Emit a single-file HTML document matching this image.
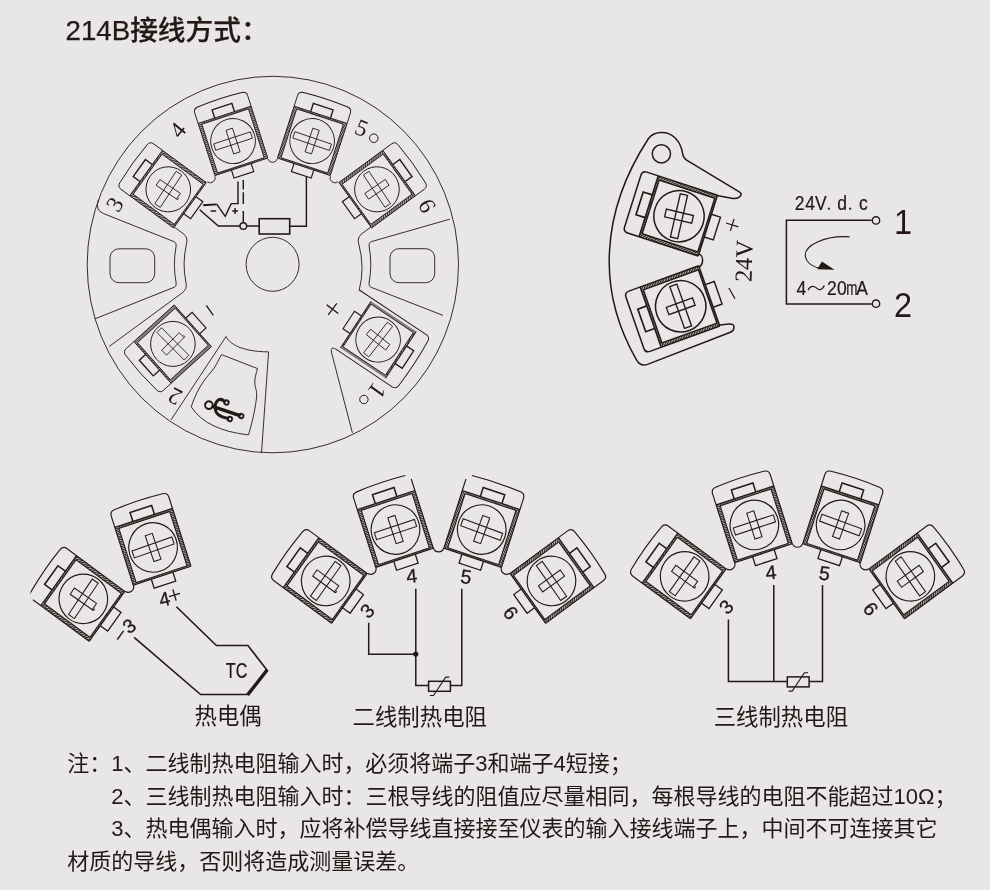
<!DOCTYPE html>
<html lang="zh"><head><meta charset="utf-8"><title>214B接线方式</title>
<style>html,body{margin:0;padding:0;background:#e8e6e7;}body{width:990px;height:890px;overflow:hidden;font-family:"Liberation Sans",sans-serif;}svg{display:block;will-change:transform;}</style>
</head><body>
<svg width="990" height="890" viewBox="0 0 990 890" role="img" aria-label="214B wiring diagram">
<defs>
<pattern id="hat" width="1.8" height="1.8" patternUnits="userSpaceOnUse" patternTransform="rotate(40)"><rect width="1.8" height="1.8" fill="#c0bab8"/><rect width="1.8" height="0.95" fill="#352d2b"/></pattern>
<pattern id="hat2" width="1.8" height="1.8" patternUnits="userSpaceOnUse" patternTransform="rotate(-50)"><rect width="1.8" height="1.8" fill="#aaa4a2"/><rect width="1.8" height="1.0" fill="#3a3230"/></pattern>
<pattern id="hatD" width="1.9" height="1.9" patternUnits="userSpaceOnUse" patternTransform="rotate(40)"><rect width="1.9" height="1.9" fill="#bdb7b5"/><rect width="1.9" height="1.05" fill="#2e2624"/></pattern>
<pattern id="hat3" width="0.85" height="4" patternUnits="userSpaceOnUse"><rect width="0.85" height="4" fill="#e8e6e7"/><rect width="0.5" height="4" fill="#3a3230"/></pattern>
</defs>
<rect width="990" height="890" fill="#e8e6e7"/>
<g fill="none" stroke="#231815" stroke-linecap="butt" stroke-linejoin="miter">
<text x="65.5" y="40.1" font-family="'Liberation Sans', 'Noto Sans CJK SC', sans-serif" font-size="27.7" font-weight="500" fill="#231815" stroke="#231815" stroke-width="0.25" stroke-linejoin="round">214B接线方式：</text>
<text x="194.6" y="723.9" font-family="'Liberation Sans', 'Noto Sans CJK SC', sans-serif" font-size="22.4" fill="#231815" stroke="none">热电偶</text>
<text x="352.6" y="724.6" font-family="'Liberation Sans', 'Noto Sans CJK SC', sans-serif" font-size="22.4" fill="#231815" stroke="none">二线制热电阻</text>
<text x="713.7" y="725.2" font-family="'Liberation Sans', 'Noto Sans CJK SC', sans-serif" font-size="22.4" fill="#231815" stroke="none">三线制热电阻</text>
<text x="67.2" y="771" font-family="'Liberation Sans', 'Noto Sans CJK SC', sans-serif" font-size="22" fill="#231815" stroke="none" textLength="564.6" lengthAdjust="spacing">注：1、二线制热电阻输入时，必须将端子3和端子4短接；</text>
<text x="111.2" y="803.9" font-family="'Liberation Sans', 'Noto Sans CJK SC', sans-serif" font-size="22" fill="#231815" stroke="none" textLength="845.3" lengthAdjust="spacing">2、三线制热电阻输入时：三根导线的阻值应尽量相同，每根导线的电阻不能超过10Ω；</text>
<text x="111.2" y="836.4" font-family="'Liberation Sans', 'Noto Sans CJK SC', sans-serif" font-size="22" fill="#231815" stroke="none" textLength="826.2" lengthAdjust="spacing">3、热电偶输入时，应将补偿导线直接接至仪表的输入接线端子上，中间不可连接其它</text>
<text x="67.2" y="869.1" font-family="'Liberation Sans', 'Noto Sans CJK SC', sans-serif" font-size="22" fill="#231815" stroke="none" textLength="352" lengthAdjust="spacing">材质的导线，否则将造成测量误差。</text>
<text transform="translate(799.52,202.3) scale(0.86,1)" y="7.3" font-family="'Liberation Sans', sans-serif" font-size="20.4" font-weight="normal" text-anchor="middle" fill="#231815" stroke="#231815" stroke-width="0.2">2</text>
<text transform="translate(810.16,202.3) scale(0.86,1)" y="7.3" font-family="'Liberation Sans', sans-serif" font-size="20.4" font-weight="normal" text-anchor="middle" fill="#231815" stroke="#231815" stroke-width="0.2">4</text>
<text transform="translate(820.8,202.3) scale(0.86,1)" y="7.3" font-family="'Liberation Sans', sans-serif" font-size="20.4" font-weight="normal" text-anchor="middle" fill="#231815" stroke="#231815" stroke-width="0.2">V</text>
<rect x="827.92" y="207.7" width="1.9" height="1.9" fill="#231815" stroke="none"/>
<text transform="translate(842.08,202.3) scale(0.86,1)" y="7.3" font-family="'Liberation Sans', sans-serif" font-size="20.4" font-weight="normal" text-anchor="middle" fill="#231815" stroke="#231815" stroke-width="0.2">d</text>
<rect x="849.2" y="207.7" width="1.9" height="1.9" fill="#231815" stroke="none"/>
<text transform="translate(863.36,202.3) scale(0.86,1)" y="7.3" font-family="'Liberation Sans', sans-serif" font-size="20.4" font-weight="normal" text-anchor="middle" fill="#231815" stroke="#231815" stroke-width="0.2">c</text>
<text transform="translate(801.45,288) scale(0.86,1)" y="7.3" font-family="'Liberation Sans', sans-serif" font-size="20.4" font-weight="normal" text-anchor="middle" fill="#231815" stroke="#231815" stroke-width="0.2">4</text>
<path d="M808.0 290.3C810.5 285.2 813.8 285.6 816.3 287.9C818.9 290.3 822.0 290.6 824.3 285.6" stroke-width="1.25"/>
<text transform="translate(831.75,288) scale(0.86,1)" y="7.3" font-family="'Liberation Sans', sans-serif" font-size="20.4" font-weight="normal" text-anchor="middle" fill="#231815" stroke="#231815" stroke-width="0.2">2</text>
<text transform="translate(841.85,288) scale(0.86,1)" y="7.3" font-family="'Liberation Sans', sans-serif" font-size="20.4" font-weight="normal" text-anchor="middle" fill="#231815" stroke="#231815" stroke-width="0.2">0</text>
<text transform="translate(851.95,288) scale(0.66,1)" y="7.3" font-family="'Liberation Sans', sans-serif" font-size="20.4" font-weight="normal" text-anchor="middle" fill="#231815" stroke="#231815" stroke-width="0.2">m</text>
<text transform="translate(862.05,288) scale(0.86,1)" y="7.3" font-family="'Liberation Sans', sans-serif" font-size="20.4" font-weight="normal" text-anchor="middle" fill="#231815" stroke="#231815" stroke-width="0.2">A</text>
<text transform="translate(903,221.4) scale(0.92,1)" y="12.64" font-family="'Liberation Sans', sans-serif" font-size="35.3" font-weight="normal" text-anchor="middle" fill="#231815" stroke="none">1</text>
<text transform="translate(903,304.5) scale(0.92,1)" y="12.64" font-family="'Liberation Sans', sans-serif" font-size="35.3" font-weight="normal" text-anchor="middle" fill="#231815" stroke="none">2</text>
<ellipse cx="272.85" cy="264.55" rx="185.65" ry="188.25" stroke-width="0.9"/>
<ellipse cx="272.6" cy="264.3" rx="26.5" ry="27" stroke-width="0.9"/>
<g transform="translate(168.26,189.31) scale(1,1.01) rotate(-54)">
<rect x="-27.8" y="-27.4" width="3.3" height="54.2" fill="url(#hat)" stroke="none"/>
<rect x="24.5" y="-27.4" width="3.3" height="54.2" fill="url(#hat)" stroke="none"/>
<rect x="-24.5" y="-27.4" width="49" height="1.9" fill="url(#hat2)" stroke="none"/>
<rect x="-24.5" y="25.3" width="49" height="1.5" fill="url(#hat2)" stroke="none"/>
<path d="M-24.5 -25.5H24.5V25.3H-24.5Z" stroke-width="0.81"/>
<path d="M-27.8 -27.4H27.8M-27.8 26.8H27.8" stroke-width="0.9"/>
<path d="M-27.8 26.8V-38.2Q-27.8 -42.7 -23.3 -43Q0 -44.9 23.3 -43Q27.8 -42.7 27.8 -38.2V26.8" stroke-width="0.9"/>
<circle cx="0" cy="0" r="22.3" stroke-width="0.9"/>
</g>
<g transform="translate(168.26,189.31) scale(1,1.01) rotate(-56.3)">
<path d="M-19.3 -3.3h38.6v6.6h-38.6Z M-3.4 -12.3h6.8v24.6h-6.8Z" stroke-width="0.81"/>
<path d="M-3.4 12.1q-0.5 2.0 1.9 1.5" stroke-width="0.81"/>
</g>
<g transform="translate(168.26,189.31) scale(1,1.01) rotate(-54)">
<path d="M-10.4 -27.4v-8.4h20.8v8.4" stroke-width="1.35"/>
<path d="M-10.4 26.8v8.4h20.8v-8.4" stroke-width="1.15"/>
</g>
<g transform="translate(233.05,141.06) scale(1,1.01) rotate(-18)">
<rect x="-27.8" y="-27.4" width="3.3" height="54.2" fill="url(#hat)" stroke="none"/>
<rect x="24.5" y="-27.4" width="3.3" height="54.2" fill="url(#hat)" stroke="none"/>
<rect x="-24.5" y="-27.4" width="49" height="1.9" fill="url(#hat2)" stroke="none"/>
<rect x="-24.5" y="25.3" width="49" height="1.5" fill="url(#hat2)" stroke="none"/>
<path d="M-24.5 -25.5H24.5V25.3H-24.5Z" stroke-width="0.81"/>
<path d="M-27.8 -27.4H27.8M-27.8 26.8H27.8" stroke-width="0.9"/>
<path d="M-27.8 26.8V-38.2Q-27.8 -42.7 -23.3 -43Q0 -44.9 23.3 -43Q27.8 -42.7 27.8 -38.2V26.8" stroke-width="0.9"/>
<circle cx="0" cy="0" r="22.3" stroke-width="0.9"/>
</g>
<g transform="translate(233.05,141.06) scale(1,1.01) rotate(-18)">
<path d="M-19.3 -3.3h38.6v6.6h-38.6Z M-3.4 -12.3h6.8v24.6h-6.8Z" stroke-width="0.81"/>
</g>
<g transform="translate(233.05,141.06) scale(1,1.01) rotate(-18)">
<path d="M-10.4 -27.4v-8.4h20.8v8.4" stroke-width="1.35"/>
<path d="M-10.4 26.8v8.4h20.8v-8.4" stroke-width="1.15"/>
</g>
<g transform="translate(312.15,141.06) scale(1,1.01) rotate(18)">
<rect x="-27.8" y="-27.4" width="3.3" height="54.2" fill="url(#hat)" stroke="none"/>
<rect x="24.5" y="-27.4" width="3.3" height="54.2" fill="url(#hat)" stroke="none"/>
<rect x="-24.5" y="-27.4" width="49" height="1.9" fill="url(#hat2)" stroke="none"/>
<rect x="-24.5" y="25.3" width="49" height="1.5" fill="url(#hat2)" stroke="none"/>
<path d="M-24.5 -25.5H24.5V25.3H-24.5Z" stroke-width="0.81"/>
<path d="M-27.8 -27.4H27.8M-27.8 26.8H27.8" stroke-width="0.9"/>
<path d="M-27.8 26.8V-38.2Q-27.8 -42.7 -23.3 -43Q0 -44.9 23.3 -43Q27.8 -42.7 27.8 -38.2V26.8" stroke-width="0.9"/>
<circle cx="0" cy="0" r="22.3" stroke-width="0.9"/>
</g>
<g transform="translate(312.15,141.06) scale(1,1.01) rotate(18.5)">
<path d="M-19.3 -3.3h38.6v6.6h-38.6Z M-3.4 -12.3h6.8v24.6h-6.8Z" stroke-width="0.81"/>
</g>
<g transform="translate(312.15,141.06) scale(1,1.01) rotate(18)">
<path d="M-10.4 -27.4v-8.4h20.8v8.4" stroke-width="1.35"/>
<path d="M-10.4 26.8v8.4h20.8v-8.4" stroke-width="1.15"/>
</g>
<g transform="translate(376.94,189.31) scale(1,1.01) rotate(54)">
<rect x="-27.8" y="-27.4" width="3.3" height="54.2" fill="url(#hat)" stroke="none"/>
<rect x="24.5" y="-27.4" width="3.3" height="54.2" fill="url(#hat)" stroke="none"/>
<rect x="-24.5" y="-27.4" width="49" height="1.9" fill="url(#hat2)" stroke="none"/>
<rect x="-24.5" y="25.3" width="49" height="1.5" fill="url(#hat2)" stroke="none"/>
<path d="M-24.5 -25.5H24.5V25.3H-24.5Z" stroke-width="0.81"/>
<path d="M-27.8 -27.4H27.8M-27.8 26.8H27.8" stroke-width="0.9"/>
<path d="M-27.8 26.8V-38.2Q-27.8 -42.7 -23.3 -43Q0 -44.9 23.3 -43Q27.8 -42.7 27.8 -38.2V26.8" stroke-width="0.9"/>
<circle cx="0" cy="0" r="22.3" stroke-width="0.9"/>
</g>
<g transform="translate(376.94,189.31) scale(1,1.01) rotate(56)">
<path d="M-19.3 -3.3h38.6v6.6h-38.6Z M-3.4 -12.3h6.8v24.6h-6.8Z" stroke-width="0.81"/>
</g>
<g transform="translate(376.94,189.31) scale(1,1.01) rotate(54)">
<path d="M-10.4 -27.4v-8.4h20.8v8.4" stroke-width="1.35"/>
<path d="M-10.4 26.8v8.4h20.8v-8.4" stroke-width="1.15"/>
</g>
<g transform="translate(172.9,343.9) scale(1,1.01) rotate(-132)">
<rect x="-27.8" y="-27.4" width="3.1" height="54.2" fill="url(#hat3)" stroke="none"/>
<rect x="24.7" y="-27.4" width="3.1" height="54.2" fill="url(#hat3)" stroke="none"/>
<rect x="-24.7" y="-27.4" width="49.4" height="1.9" fill="url(#hat2)" stroke="none"/>
<rect x="-24.7" y="25.3" width="49.4" height="1.5" fill="url(#hat2)" stroke="none"/>
<path d="M-24.7 -25.5H24.7V25.3H-24.7Z" stroke-width="0.81"/>
<path d="M-27.8 -27.4H27.8M-27.8 26.8H27.8" stroke-width="0.9"/>
<path d="M-27.8 26.8V-37.8Q-27.8 -42.3 -23.3 -42.6Q0 -44.5 23.3 -42.6Q27.8 -42.3 27.8 -37.8V26.8" stroke-width="0.9"/>
<circle cx="0" cy="0" r="22.3" stroke-width="0.9"/>
</g>
<g transform="translate(172.9,343.9) scale(1,1.01) rotate(225)">
<path d="M-19.3 -3.3h38.6v6.6h-38.6Z M-3.4 -12.3h6.8v24.6h-6.8Z" stroke-width="0.81"/>
<path d="M-3.4 12.1q-0.5 2.0 1.9 1.5" stroke-width="0.81"/>
</g>
<g transform="translate(172.9,343.9) scale(1,1.01) rotate(-132)">
<path d="M-10.4 -27.4v-8.4h20.8v8.4" stroke-width="1.35"/>
<path d="M-10.4 26.8v8.4h20.8v-8.4" stroke-width="1.15"/>
</g>
<g transform="translate(378.1,339.6) scale(1,1.01) rotate(123.5)">
<rect x="-27.8" y="-27.4" width="2.5" height="54.2" fill="url(#hat3)" stroke="none"/>
<rect x="25.3" y="-27.4" width="2.5" height="54.2" fill="url(#hat3)" stroke="none"/>
<rect x="-25.3" y="-27.4" width="50.6" height="1.9" fill="url(#hat2)" stroke="none"/>
<rect x="-25.3" y="25.3" width="50.6" height="1.5" fill="url(#hat2)" stroke="none"/>
<path d="M-25.3 -25.5H25.3V25.3H-25.3Z" stroke-width="0.81"/>
<path d="M-27.8 -27.4H27.8M-27.8 26.8H27.8" stroke-width="0.9"/>
<path d="M-30.6 42.3V-37.5Q-30.6 -42 -26.1 -42.3Q0 -44.2 26.7 -42.3Q31.2 -42 31.2 -37.5V30" stroke-width="0.9"/>
<circle cx="0" cy="0" r="22.3" stroke-width="0.9"/>
</g>
<g transform="translate(378.1,339.6) scale(1,1.01) rotate(-51.8)">
<path d="M-19.3 -3.3h38.6v6.6h-38.6Z M-3.4 -12.3h6.8v24.6h-6.8Z" stroke-width="0.81"/>
</g>
<g transform="translate(378.1,339.6) scale(1,1.01) rotate(123.5)">
<path d="M-10.4 -27.4v-8.4h20.8v8.4" stroke-width="1.35"/>
<path d="M-10.4 26.8v8.4h20.8v-8.4" stroke-width="1.15"/>
</g>
<g transform="translate(272.6,264.5) scale(1,1.01)">
<path d="M-65.33 -81.83A5 5 0 0 0 -57.63 -87.42" stroke-width="0.9"/>
<path d="M-4.76 -104.6A5 5 0 0 0 4.76 -104.6" stroke-width="0.9"/>
<path d="M57.63 -87.42A5 5 0 0 0 65.33 -81.83" stroke-width="0.9"/>
<path d="M-98.21 -36.99L-89.57 -30.72Q-84.31 -26.9 -86.06 -20.65A88.5 88.5 0 0 0 -86.66 17.96Q-85.11 24.26 -90.37 28.08L-163.33 81.09" stroke-width="0.9"/>
<path d="M98.21 -36.99L89.57 -30.72Q84.31 -26.9 86.06 -20.65A88.5 88.5 0 0 1 86.4 26.33" stroke-width="0.9"/>
<path d="M-174.18 -64.25Q-177.67 -53.81 -169.3 -50.5L-98.61 -22.61Q-95.82 -21.5 -96.44 -18.48A98.2 98.2 0 0 0 -96.44 18.48Q-95.82 21.5 -98.61 22.61L-177.67 53.81" stroke-width="0.9"/>
<g transform="scale(-1,1)">
<path d="M-177.2 -44.87L-98.61 -22.61Q-95.82 -21.5 -96.44 -18.48A98.2 98.2 0 0 0 -96.44 18.48Q-95.82 21.5 -98.61 22.61L-170.4 50.39" stroke-width="0.9"/>
</g>
</g>
<rect x="110" y="248.8" width="44.7" height="33.9" rx="9" ry="9" stroke-width="0.9"/>
<rect x="390" y="248.7" width="44.7" height="34" rx="9" ry="9" stroke-width="0.9"/>
<path d="M335.9 349.2 Q330.6 345.8 331.4 352 L352.4 432.8" stroke-width="0.9"/>
<path d="M171 419.9 L226.1 336.5 C229 343 240 351.6 268.6 351.9 L261.5 453.2" stroke-width="0.9"/>
<path d="M221.6 354.6 L257.5 368.6 C256 374 254.3 379 254.9 384.5 C255.6 389 257.2 391.5 256.6 397 C255.6 406 253.5 418 248.5 434.9 Q206.2 430.2 191.2 406.8 C194 398 199 387.5 204.5 380 C209 374 214 369.5 216.5 364 C218 361 220 357.5 221.6 354.6Z" stroke-width="0.9"/>
<g transform="translate(208.9,405.1) rotate(18.6)" stroke-linecap="round" stroke-linejoin="round">
<circle cx="0" cy="0" r="3.8" stroke-width="2"/>
<path d="M4.6 0H32" stroke-width="3.5"/>
<path d="M6.0 -1.0C5.6 -8.4 8.6 -10.6 13.6 -8.6" stroke-width="3"/>
<path d="M7.2 1.6C9.5 6.6 14 7.2 22.2 6.6" stroke-width="2.9"/>
<circle cx="15.9" cy="-8" r="2.2" stroke-width="1.9"/>
<circle cx="24.3" cy="6.5" r="2.2" stroke-width="1.9"/>
<circle cx="34.1" cy="0" r="2.2" stroke-width="1.9"/>
</g>
<text transform="translate(114.6,204.4) rotate(-57.7)" y="7.94" font-family="'Liberation Serif', serif" font-size="23.5" font-weight="normal" text-anchor="middle" fill="#231815" stroke="none">3</text>
<text transform="translate(177.7,129.8) rotate(-50.5)" y="7.94" font-family="'Liberation Serif', serif" font-size="23.5" font-weight="normal" text-anchor="middle" fill="#231815" stroke="none">4</text>
<text transform="translate(361.7,127.9) rotate(22)" y="7.94" font-family="'Liberation Serif', serif" font-size="23.5" font-weight="normal" text-anchor="middle" fill="#231815" stroke="none">5</text>
<circle cx="373.8" cy="138.2" r="4.3" stroke-width="1"/>
<text transform="translate(427.2,205.8) rotate(62)" y="7.94" font-family="'Liberation Serif', serif" font-size="23.5" font-weight="normal" text-anchor="middle" fill="#231815" stroke="none">6</text>
<text transform="translate(175,396.3) rotate(-153)" y="7.94" font-family="'Liberation Serif', serif" font-size="23.5" font-weight="normal" text-anchor="middle" fill="#231815" stroke="none">2</text>
<text transform="translate(377.4,390.8) rotate(126)" y="8.28" font-family="'Liberation Serif', serif" font-size="24.5" font-weight="normal" text-anchor="middle" fill="#231815" stroke="none">1</text>
<circle cx="363.9" cy="399.5" r="4.2" stroke-width="1"/>
<path d="M206.3 305.3L213.3 315.4" stroke-width="1.3"/>
<g transform="translate(332.5,309.2) rotate(37)">
<path d="M-7.2 0H7.2M0 -7.2V7.2" stroke-width="1.3"/>
</g>
<rect x="259.2" y="218.7" width="30.5" height="15.3" stroke-width="1.6"/>
<circle cx="243.3" cy="226" r="3.3" stroke-width="1.4"/>
<path d="M246.6 226H259.2 M289.7 226.3H306.4V176.7" stroke-width="1.45"/>
<path d="M243.3 179.9V189.6M243.3 192.3V204.1M243.3 211V222.7" stroke-width="1.45"/>
<path d="M238 181.5V203.6H231.2L225.2 216.3L216.7 204.2" stroke-width="1.45"/>
<path d="M216.7 204.4L203.2 205.2" stroke-width="1.9"/>
<path d="M199.7 209.8L218.3 226H240" stroke-width="1.45"/>
<path d="M210.6 211H216.2" stroke-width="1.5"/>
<path d="M232.2 211H238M235.1 208.1V213.9" stroke-width="1.5"/>
<path d="M719.8 324.9 L728.9 323.9 Q734.6 323.6 733.9 328 Q733.6 331.2 730.4 332.3 L647.5 364.4 Q640.5 366.8 636.6 360.2 C617 326 607 290 609.6 250 C611.5 215 624 176 648.5 138.5 Q653 132.6 661.5 132.6 C672 132.4 680.5 140.4 682.6 153.5 Q683.3 158.2 686.6 160.2 L739.3 191.9 Q742.4 193.9 740.2 196.2 Q737.8 198.9 733 198.4 L716.8 195.5" stroke-width="1.5" stroke-linejoin="round"/>
<circle cx="661.4" cy="153.8" r="9.1" stroke-width="1.5"/>
<path d="M698.2 253.6 Q702.9 255.0 702.6 260.4 Q702.4 265.0 699.2 267.0" stroke-width="1.5"/>
<g transform="translate(679,216.2) scale(1.13,1.15) rotate(-72.2)">
<rect x="-27.8" y="-28.2" width="3.3" height="55" fill="url(#hatD)" stroke="none"/>
<rect x="24.5" y="-28.2" width="3.3" height="55" fill="url(#hatD)" stroke="none"/>
<rect x="-24.5" y="-28.2" width="49" height="1.9" fill="url(#hat2)" stroke="none"/>
<rect x="-24.5" y="25.3" width="49" height="1.5" fill="url(#hat2)" stroke="none"/>
<path d="M-24.5 -26.3H24.5V25.3H-24.5Z" stroke-width="1.19"/>
<path d="M-27.8 -28.2H27.8M-27.8 26.8H27.8" stroke-width="1.33"/>
<path d="M-27.8 26.8V-38.8Q-27.8 -43 -23.6 -43Q0 -43 23.6 -43Q27.8 -43 27.8 -38.8V26.8" stroke-width="1.33"/>
<circle cx="0" cy="0" r="22.3" stroke-width="1.33"/>
</g>
<g transform="translate(679,216.2) scale(1.13,1.15) rotate(103.1)">
<path d="M-19.3 -3.3h38.6v6.6h-38.6Z M-3.4 -12.3h6.8v24.6h-6.8Z" stroke-width="1.19"/>
</g>
<g transform="translate(679,216.2) scale(1.13,1.15) rotate(-72.2)">
<path d="M-10.4 -28.2v-8.4h20.8v8.4" stroke-width="1.46"/>
<path d="M-10.4 26.8v8.4h20.8v-8.4" stroke-width="1.24"/>
</g>
<g transform="translate(680.7,306.3) scale(1.13,1.15) rotate(-109.6)">
<rect x="-27.8" y="-28.2" width="3.3" height="55" fill="url(#hatD)" stroke="none"/>
<rect x="24.5" y="-28.2" width="3.3" height="55" fill="url(#hatD)" stroke="none"/>
<rect x="-24.5" y="-28.2" width="49" height="1.9" fill="url(#hat2)" stroke="none"/>
<rect x="-24.5" y="25.3" width="49" height="1.5" fill="url(#hat2)" stroke="none"/>
<path d="M-24.5 -26.3H24.5V25.3H-24.5Z" stroke-width="1.19"/>
<path d="M-27.8 -28.2H27.8M-27.8 26.8H27.8" stroke-width="1.33"/>
<path d="M-27.8 26.8V-38.8Q-27.8 -43 -23.6 -43Q0 -43 23.6 -43Q27.8 -43 27.8 -38.8V26.8" stroke-width="1.33"/>
<circle cx="0" cy="0" r="22.3" stroke-width="1.33"/>
</g>
<g transform="translate(680.7,306.3) scale(1.13,1.15) rotate(70.3)">
<path d="M-19.3 -3.3h38.6v6.6h-38.6Z M-3.4 -12.3h6.8v24.6h-6.8Z" stroke-width="1.19"/>
</g>
<g transform="translate(680.7,306.3) scale(1.13,1.15) rotate(-109.6)">
<path d="M-10.4 -28.2v-8.4h20.8v8.4" stroke-width="1.46"/>
<path d="M-10.4 26.8v8.4h20.8v-8.4" stroke-width="1.24"/>
</g>
<g transform="translate(732.2,224.9) rotate(17)">
<path d="M-6.5 0H6.5M0 -6.3V6.3" stroke-width="1.25"/>
</g>
<path d="M728.9 288L735 298.8" stroke-width="1.25"/>
<text transform="translate(743.9,261) rotate(-88)" y="8.28" font-family="'Liberation Serif', serif" font-size="24.5" font-weight="normal" text-anchor="middle" fill="#231815" stroke="none">24V</text>
<path d="M871.6 220.2H786.4V304.0H871.6" stroke-width="1.5"/>
<circle cx="876" cy="220.4" r="3.7" stroke-width="1.4"/>
<circle cx="876" cy="303.7" r="3.7" stroke-width="1.4"/>
<path d="M849.6 236.9C825 235 803 246 805.5 257 C807 263.5 814 267.5 822 268.6" stroke-width="1.1"/>
<path d="M834.6 269.7L817.2 269.2L821.9 261.6Z" fill="#231815" stroke="none"/>
<clipPath id="cl196"><rect x="30.5" y="0" width="990" height="890"/></clipPath>
<g clip-path="url(#cl196)">
<g transform="translate(83.33,598.84) scale(1.09,1.11) rotate(-54)">
<rect x="-27.8" y="-28" width="3.3" height="54.8" fill="url(#hatD)" stroke="none"/>
<rect x="24.5" y="-28" width="3.3" height="54.8" fill="url(#hatD)" stroke="none"/>
<rect x="-24.5" y="-28" width="49" height="1.9" fill="url(#hat2)" stroke="none"/>
<rect x="-24.5" y="25.3" width="49" height="1.5" fill="url(#hat2)" stroke="none"/>
<path d="M-24.5 -26.1H24.5V25.3H-24.5Z" stroke-width="0.95"/>
<path d="M-27.8 -28H27.8M-27.8 26.8H27.8" stroke-width="1.06"/>
<path d="M-27.8 26.8V-37M-35.8 -41.4Q0 -45.2 23.3 -43.3Q27.8 -43 27.8 -38.5V26.8" stroke-width="1.06"/>
<circle cx="0" cy="0" r="22.3" stroke-width="1.06"/>
</g>
<g transform="translate(83.33,598.84) scale(1.09,1.11) rotate(-55.6)">
<path d="M-19.3 -3.3h38.6v6.6h-38.6Z M-3.4 -12.3h6.8v24.6h-6.8Z" stroke-width="0.95"/>
<path d="M-3.4 12.1q-0.5 2.0 1.9 1.5" stroke-width="0.95"/>
</g>
<g transform="translate(83.33,598.84) scale(1.09,1.11) rotate(-54)">
<path d="M-10.4 -28v-8.4h20.8v8.4" stroke-width="1.38"/>
<path d="M-10.4 26.8v8.4h20.8v-8.4" stroke-width="1.17"/>
</g>
<g transform="translate(153.09,547.45) scale(1.09,1.11) rotate(-18)">
<rect x="-27.8" y="-28" width="3.3" height="54.8" fill="url(#hatD)" stroke="none"/>
<rect x="24.5" y="-28" width="3.3" height="54.8" fill="url(#hatD)" stroke="none"/>
<rect x="-24.5" y="-28" width="49" height="1.9" fill="url(#hat2)" stroke="none"/>
<rect x="-24.5" y="25.3" width="49" height="1.5" fill="url(#hat2)" stroke="none"/>
<path d="M-24.5 -26.1H24.5V25.3H-24.5Z" stroke-width="0.95"/>
<path d="M-27.8 -28H27.8M-27.8 26.8H27.8" stroke-width="1.06"/>
<path d="M-27.8 26.8V-38.5Q-27.8 -43 -23.3 -43.3Q0 -45.2 23.3 -43.3Q27.8 -43 27.8 -38.5V26.8" stroke-width="1.06"/>
<circle cx="0" cy="0" r="22.3" stroke-width="1.06"/>
</g>
<g transform="translate(153.09,547.45) scale(1.09,1.11) rotate(-19)">
<path d="M-19.3 -3.3h38.6v6.6h-38.6Z M-3.4 -12.3h6.8v24.6h-6.8Z" stroke-width="0.95"/>
</g>
<g transform="translate(153.09,547.45) scale(1.09,1.11) rotate(-18)">
<path d="M-10.4 -28v-8.4h20.8v8.4" stroke-width="1.38"/>
<path d="M-10.4 26.8v8.4h20.8v-8.4" stroke-width="1.17"/>
</g>
<g transform="translate(196.2,682) scale(1.09,1.11)">
<path d="M-65.33 -81.83A5 5 0 0 0 -57.63 -87.42" stroke-width="1.06"/>
</g>
</g>
<path d="M176.4 606.8L216.4 645.5H247.9L267.1 670.2" stroke-width="1.6"/>
<path d="M267.3 669.8L247.6 694.9" stroke-width="3.4"/>
<path d="M248.2 694.5H200.6L134.1 637.3" stroke-width="1.6"/>
<text transform="translate(236.6,669.9) scale(0.74,1)" y="7.8" font-family="'Liberation Sans', sans-serif" font-size="21.8" font-weight="normal" text-anchor="middle" fill="#231815" stroke="#231815" stroke-width="0.25">TC</text>
<text transform="translate(164.3,598.9) rotate(-13.6)" y="7.02" font-family="'Liberation Sans', sans-serif" font-size="19.6" font-weight="normal" text-anchor="middle" fill="#231815" stroke="#231815" stroke-width="0.3">4</text>
<g transform="translate(174.5,595) rotate(-16)">
<path d="M-5.7 0H5.7M0 -5.9V5.9" stroke-width="1.35"/>
</g>
<text transform="translate(129.1,625.9) rotate(-37)" y="7.02" font-family="'Liberation Sans', sans-serif" font-size="19.6" font-weight="normal" text-anchor="middle" fill="#231815" stroke="#231815" stroke-width="0.3">3</text>
<path d="M117.3 639.5L123.6 630.9" stroke-width="1.35"/>
<g transform="translate(325.73,580.94) scale(1.09,1.11) rotate(-54)">
<rect x="-27.8" y="-28" width="3.3" height="54.8" fill="url(#hatD)" stroke="none"/>
<rect x="24.5" y="-28" width="3.3" height="54.8" fill="url(#hatD)" stroke="none"/>
<rect x="-24.5" y="-28" width="49" height="1.9" fill="url(#hat2)" stroke="none"/>
<rect x="-24.5" y="25.3" width="49" height="1.5" fill="url(#hat2)" stroke="none"/>
<path d="M-24.5 -26.1H24.5V25.3H-24.5Z" stroke-width="0.95"/>
<path d="M-27.8 -28H27.8M-27.8 26.8H27.8" stroke-width="1.06"/>
<path d="M-27.8 26.8V-38.5Q-27.8 -43 -23.3 -43.3Q0 -45.2 23.3 -43.3Q27.8 -43 27.8 -38.5V26.8" stroke-width="1.06"/>
<circle cx="0" cy="0" r="22.3" stroke-width="1.06"/>
</g>
<g transform="translate(325.73,580.94) scale(1.09,1.11) rotate(-54.2)">
<path d="M-19.3 -3.3h38.6v6.6h-38.6Z M-3.4 -12.3h6.8v24.6h-6.8Z" stroke-width="0.95"/>
<path d="M-3.4 12.1q-0.5 2.0 1.9 1.5" stroke-width="0.95"/>
</g>
<g transform="translate(325.73,580.94) scale(1.09,1.11) rotate(-54)">
<path d="M-10.4 -28v-8.4h20.8v8.4" stroke-width="1.38"/>
<path d="M-10.4 26.8v8.4h20.8v-8.4" stroke-width="1.17"/>
</g>
<g transform="translate(395.49,529.55) scale(1.09,1.11) rotate(-18)">
<rect x="-27.8" y="-28" width="3.3" height="54.8" fill="url(#hatD)" stroke="none"/>
<rect x="24.5" y="-28" width="3.3" height="54.8" fill="url(#hatD)" stroke="none"/>
<rect x="-24.5" y="-28" width="49" height="1.9" fill="url(#hat2)" stroke="none"/>
<rect x="-24.5" y="25.3" width="49" height="1.5" fill="url(#hat2)" stroke="none"/>
<path d="M-24.5 -26.1H24.5V25.3H-24.5Z" stroke-width="0.95"/>
<path d="M-27.8 -28H27.8M-27.8 26.8H27.8" stroke-width="1.06"/>
<path d="M-27.8 26.8V-38.5Q-27.8 -43 -23.3 -43.3Q0 -45.2 23.6 -43.5M27.8 -38.8V26.8" stroke-width="1.06"/>
<circle cx="0" cy="0" r="22.3" stroke-width="1.06"/>
</g>
<g transform="translate(395.49,529.55) scale(1.09,1.11) rotate(-18)">
<path d="M-19.3 -3.3h38.6v6.6h-38.6Z M-3.4 -12.3h6.8v24.6h-6.8Z" stroke-width="0.95"/>
</g>
<g transform="translate(395.49,529.55) scale(1.09,1.11) rotate(-18)">
<path d="M-10.4 -28v-8.4h20.8v8.4" stroke-width="1.38"/>
<path d="M-10.4 26.8v8.4h20.8v-8.4" stroke-width="1.17"/>
</g>
<g transform="translate(481.71,529.55) scale(1.09,1.11) rotate(18)">
<rect x="-27.8" y="-28" width="3.3" height="54.8" fill="url(#hatD)" stroke="none"/>
<rect x="24.5" y="-28" width="3.3" height="54.8" fill="url(#hatD)" stroke="none"/>
<rect x="-24.5" y="-28" width="49" height="1.9" fill="url(#hat2)" stroke="none"/>
<rect x="-24.5" y="25.3" width="49" height="1.5" fill="url(#hat2)" stroke="none"/>
<path d="M-24.5 -26.1H24.5V25.3H-24.5Z" stroke-width="0.95"/>
<path d="M-27.8 -28H27.8M-27.8 26.8H27.8" stroke-width="1.06"/>
<path d="M-27.8 26.8V-38.8M-23.6 -43.5Q0 -45.2 23.3 -43.3Q27.8 -43 27.8 -38.5V26.8" stroke-width="1.06"/>
<circle cx="0" cy="0" r="22.3" stroke-width="1.06"/>
</g>
<g transform="translate(481.71,529.55) scale(1.09,1.11) rotate(20)">
<path d="M-19.3 -3.3h38.6v6.6h-38.6Z M-3.4 -12.3h6.8v24.6h-6.8Z" stroke-width="0.95"/>
</g>
<g transform="translate(481.71,529.55) scale(1.09,1.11) rotate(18)">
<path d="M-10.4 -28v-8.4h20.8v8.4" stroke-width="1.38"/>
<path d="M-10.4 26.8v8.4h20.8v-8.4" stroke-width="1.17"/>
</g>
<g transform="translate(551.47,580.94) scale(1.09,1.11) rotate(54)">
<rect x="-27.8" y="-28" width="3.3" height="54.8" fill="url(#hatD)" stroke="none"/>
<rect x="24.5" y="-28" width="3.3" height="54.8" fill="url(#hatD)" stroke="none"/>
<rect x="-24.5" y="-28" width="49" height="1.9" fill="url(#hat2)" stroke="none"/>
<rect x="-24.5" y="25.3" width="49" height="1.5" fill="url(#hat2)" stroke="none"/>
<path d="M-24.5 -26.1H24.5V25.3H-24.5Z" stroke-width="0.95"/>
<path d="M-27.8 -28H27.8M-27.8 26.8H27.8" stroke-width="1.06"/>
<path d="M-27.8 26.8V-38.5Q-27.8 -43 -23.3 -43.3Q0 -45.2 23.3 -43.3Q27.8 -43 27.8 -38.5V26.8" stroke-width="1.06"/>
<circle cx="0" cy="0" r="22.3" stroke-width="1.06"/>
</g>
<g transform="translate(551.47,580.94) scale(1.09,1.11) rotate(54.6)">
<path d="M-19.3 -3.3h38.6v6.6h-38.6Z M-3.4 -12.3h6.8v24.6h-6.8Z" stroke-width="0.95"/>
</g>
<g transform="translate(551.47,580.94) scale(1.09,1.11) rotate(54)">
<path d="M-10.4 -28v-8.4h20.8v8.4" stroke-width="1.38"/>
<path d="M-10.4 26.8v8.4h20.8v-8.4" stroke-width="1.17"/>
</g>
<g transform="translate(438.6,664.1) scale(1.09,1.11)">
<path d="M-65.33 -81.83A5 5 0 0 0 -57.63 -87.42" stroke-width="1.06"/>
<path d="M-4.76 -104.6A5 5 0 0 0 4.76 -104.6" stroke-width="1.06"/>
<path d="M57.63 -87.42A5 5 0 0 0 65.33 -81.83" stroke-width="1.06"/>
</g>
<path d="M368.7 622.7V654.2H415.8" stroke-width="1.5"/>
<path d="M415.8 588.7V685.4H428.6M450.4 685.4H461.8V588.7" stroke-width="1.5"/>
<circle cx="415.8" cy="654.2" r="2.4" stroke-width="0.5" fill="#231815"/>
<rect x="428.6" y="681.3" width="21.8" height="10" stroke-width="1.5"/>
<path d="M429.9 695.5H433.5L445.7 677.1H449.3" stroke-width="1.1"/>
<text transform="translate(367.2,610.7) rotate(-45)" y="7.02" font-family="'Liberation Sans', sans-serif" font-size="19.6" font-weight="normal" text-anchor="middle" fill="#231815" stroke="#231815" stroke-width="0.3">3</text>
<text transform="translate(411.8,575.8) rotate(-6)" y="7.02" font-family="'Liberation Sans', sans-serif" font-size="19.6" font-weight="normal" text-anchor="middle" fill="#231815" stroke="#231815" stroke-width="0.3">4</text>
<text transform="translate(466.1,576.6) rotate(8)" y="7.02" font-family="'Liberation Sans', sans-serif" font-size="19.6" font-weight="normal" text-anchor="middle" fill="#231815" stroke="#231815" stroke-width="0.3">5</text>
<text transform="translate(510.9,612.7) rotate(52)" y="7.02" font-family="'Liberation Sans', sans-serif" font-size="19.6" font-weight="normal" text-anchor="middle" fill="#231815" stroke="#231815" stroke-width="0.3">6</text>
<g transform="translate(684.63,576.34) scale(1.09,1.11) rotate(-54)">
<rect x="-27.8" y="-28" width="3.3" height="54.8" fill="url(#hatD)" stroke="none"/>
<rect x="24.5" y="-28" width="3.3" height="54.8" fill="url(#hatD)" stroke="none"/>
<rect x="-24.5" y="-28" width="49" height="1.9" fill="url(#hat2)" stroke="none"/>
<rect x="-24.5" y="25.3" width="49" height="1.5" fill="url(#hat2)" stroke="none"/>
<path d="M-24.5 -26.1H24.5V25.3H-24.5Z" stroke-width="0.95"/>
<path d="M-27.8 -28H27.8M-27.8 26.8H27.8" stroke-width="1.06"/>
<path d="M-27.8 26.8V-38.5Q-27.8 -43 -23.3 -43.3Q0 -45.2 23.3 -43.3Q27.8 -43 27.8 -38.5V26.8" stroke-width="1.06"/>
<circle cx="0" cy="0" r="22.3" stroke-width="1.06"/>
</g>
<g transform="translate(684.63,576.34) scale(1.09,1.11) rotate(-54.2)">
<path d="M-19.3 -3.3h38.6v6.6h-38.6Z M-3.4 -12.3h6.8v24.6h-6.8Z" stroke-width="0.95"/>
<path d="M-3.4 12.1q-0.5 2.0 1.9 1.5" stroke-width="0.95"/>
</g>
<g transform="translate(684.63,576.34) scale(1.09,1.11) rotate(-54)">
<path d="M-10.4 -28v-8.4h20.8v8.4" stroke-width="1.38"/>
<path d="M-10.4 26.8v8.4h20.8v-8.4" stroke-width="1.17"/>
</g>
<g transform="translate(754.39,524.95) scale(1.09,1.11) rotate(-18)">
<rect x="-27.8" y="-28" width="3.3" height="54.8" fill="url(#hatD)" stroke="none"/>
<rect x="24.5" y="-28" width="3.3" height="54.8" fill="url(#hatD)" stroke="none"/>
<rect x="-24.5" y="-28" width="49" height="1.9" fill="url(#hat2)" stroke="none"/>
<rect x="-24.5" y="25.3" width="49" height="1.5" fill="url(#hat2)" stroke="none"/>
<path d="M-24.5 -26.1H24.5V25.3H-24.5Z" stroke-width="0.95"/>
<path d="M-27.8 -28H27.8M-27.8 26.8H27.8" stroke-width="1.06"/>
<path d="M-27.8 26.8V-38.5Q-27.8 -43 -23.3 -43.3Q0 -45.2 23.3 -43.3Q27.8 -43 27.8 -38.5V26.8" stroke-width="1.06"/>
<circle cx="0" cy="0" r="22.3" stroke-width="1.06"/>
</g>
<g transform="translate(754.39,524.95) scale(1.09,1.11) rotate(-18)">
<path d="M-19.3 -3.3h38.6v6.6h-38.6Z M-3.4 -12.3h6.8v24.6h-6.8Z" stroke-width="0.95"/>
</g>
<g transform="translate(754.39,524.95) scale(1.09,1.11) rotate(-18)">
<path d="M-10.4 -28v-8.4h20.8v8.4" stroke-width="1.38"/>
<path d="M-10.4 26.8v8.4h20.8v-8.4" stroke-width="1.17"/>
</g>
<g transform="translate(840.61,524.95) scale(1.09,1.11) rotate(18)">
<rect x="-27.8" y="-28" width="3.3" height="54.8" fill="url(#hatD)" stroke="none"/>
<rect x="24.5" y="-28" width="3.3" height="54.8" fill="url(#hatD)" stroke="none"/>
<rect x="-24.5" y="-28" width="49" height="1.9" fill="url(#hat2)" stroke="none"/>
<rect x="-24.5" y="25.3" width="49" height="1.5" fill="url(#hat2)" stroke="none"/>
<path d="M-24.5 -26.1H24.5V25.3H-24.5Z" stroke-width="0.95"/>
<path d="M-27.8 -28H27.8M-27.8 26.8H27.8" stroke-width="1.06"/>
<path d="M-27.8 26.8V-38.5Q-27.8 -43 -23.3 -43.3Q0 -45.2 23.3 -43.3Q27.8 -43 27.8 -38.5V26.8" stroke-width="1.06"/>
<circle cx="0" cy="0" r="22.3" stroke-width="1.06"/>
</g>
<g transform="translate(840.61,524.95) scale(1.09,1.11) rotate(20)">
<path d="M-19.3 -3.3h38.6v6.6h-38.6Z M-3.4 -12.3h6.8v24.6h-6.8Z" stroke-width="0.95"/>
</g>
<g transform="translate(840.61,524.95) scale(1.09,1.11) rotate(18)">
<path d="M-10.4 -28v-8.4h20.8v8.4" stroke-width="1.38"/>
<path d="M-10.4 26.8v8.4h20.8v-8.4" stroke-width="1.17"/>
</g>
<g transform="translate(910.37,576.34) scale(1.09,1.11) rotate(54)">
<rect x="-27.8" y="-28" width="3.3" height="54.8" fill="url(#hatD)" stroke="none"/>
<rect x="24.5" y="-28" width="3.3" height="54.8" fill="url(#hatD)" stroke="none"/>
<rect x="-24.5" y="-28" width="49" height="1.9" fill="url(#hat2)" stroke="none"/>
<rect x="-24.5" y="25.3" width="49" height="1.5" fill="url(#hat2)" stroke="none"/>
<path d="M-24.5 -26.1H24.5V25.3H-24.5Z" stroke-width="0.95"/>
<path d="M-27.8 -28H27.8M-27.8 26.8H27.8" stroke-width="1.06"/>
<path d="M-27.8 26.8V-38.5Q-27.8 -43 -23.3 -43.3Q0 -45.2 23.3 -43.3Q27.8 -43 27.8 -38.5V26.8" stroke-width="1.06"/>
<circle cx="0" cy="0" r="22.3" stroke-width="1.06"/>
</g>
<g transform="translate(910.37,576.34) scale(1.09,1.11) rotate(54.6)">
<path d="M-19.3 -3.3h38.6v6.6h-38.6Z M-3.4 -12.3h6.8v24.6h-6.8Z" stroke-width="0.95"/>
</g>
<g transform="translate(910.37,576.34) scale(1.09,1.11) rotate(54)">
<path d="M-10.4 -28v-8.4h20.8v8.4" stroke-width="1.38"/>
<path d="M-10.4 26.8v8.4h20.8v-8.4" stroke-width="1.17"/>
</g>
<g transform="translate(797.5,659.5) scale(1.09,1.11)">
<path d="M-65.33 -81.83A5 5 0 0 0 -57.63 -87.42" stroke-width="1.06"/>
<path d="M-4.76 -104.6A5 5 0 0 0 4.76 -104.6" stroke-width="1.06"/>
<path d="M57.63 -87.42A5 5 0 0 0 65.33 -81.83" stroke-width="1.06"/>
</g>
<path d="M728.4 619.5V681.4H787.3M773.8 585V681.4M809.1 681.4H822.5V585" stroke-width="1.5"/>
<rect x="787.3" y="676.9" width="21.8" height="10" stroke-width="1.5"/>
<path d="M788.6 691.1H792.2L804.4 672.7H808" stroke-width="1.1"/>
<text transform="translate(726.2,606.6) rotate(-45)" y="7.02" font-family="'Liberation Sans', sans-serif" font-size="19.6" font-weight="normal" text-anchor="middle" fill="#231815" stroke="#231815" stroke-width="0.3">3</text>
<text transform="translate(770.9,572.3) rotate(-6)" y="7.02" font-family="'Liberation Sans', sans-serif" font-size="19.6" font-weight="normal" text-anchor="middle" fill="#231815" stroke="#231815" stroke-width="0.3">4</text>
<text transform="translate(824.7,573) rotate(8)" y="7.02" font-family="'Liberation Sans', sans-serif" font-size="19.6" font-weight="normal" text-anchor="middle" fill="#231815" stroke="#231815" stroke-width="0.3">5</text>
<text transform="translate(870.9,608.6) rotate(52)" y="7.02" font-family="'Liberation Sans', sans-serif" font-size="19.6" font-weight="normal" text-anchor="middle" fill="#231815" stroke="#231815" stroke-width="0.3">6</text>
</g>
</svg>
</body></html>
